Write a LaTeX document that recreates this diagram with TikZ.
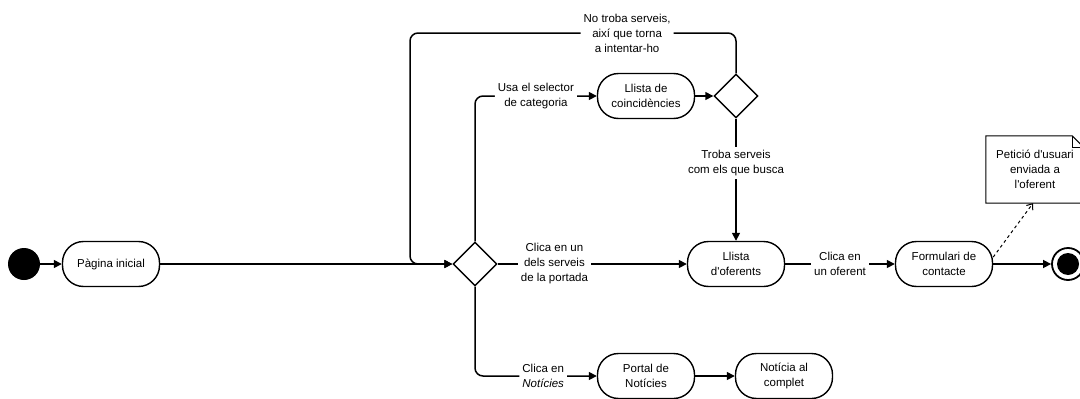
\documentclass[tikz,border=0pt]{standalone}
\usepackage{fontspec}
\setmainfont{Liberation Sans}[Ligatures=TeXOff]
\usetikzlibrary{arrows.meta}
\usetikzlibrary{shapes.geometric}

\tikzset{
  act/.style={draw, line width=1.4pt, rounded corners=21pt, minimum width=97pt, minimum height=45pt, align=center, inner sep=2pt},
  dec/.style={draw, diamond, line width=1.4pt, minimum width=44pt, minimum height=44pt, inner sep=0pt},
  flow/.style={line width=1.5pt, -{Triangle[length=8pt,width=8pt]}},
  lbl/.style={fill=white, align=center, inner sep=3pt},
}

\begin{document}
\begin{tikzpicture}[x=1pt,y=-1pt,font=\fontsize{11.5}{15}\selectfont]
\useasboundingbox (0,0) rectangle (1080,399);
% nodes
\node[circle,fill=black,minimum size=32pt,inner sep=0pt] (start) at (24,264) {};
\node[act] (home) at (111,264) {Pàgina inicial};
\node[dec] (d1) at (475,264) {};
\node[act] (coin) at (646,96) {Llista de\\coincidències};
\node[dec] (d2) at (736,96) {};
\node[act] (ofer) at (736,264) {Llista\\d'oferents};
\node[act] (form) at (944,264) {Formulari de\\contacte};
\node[act] (portal) at (646,376) {Portal de\\Notícies};
\node[act] (full) at (784,376) {Notícia al\\complet};
\node[circle,draw,line width=1.8pt,minimum size=32pt,inner sep=0pt] (end) at (1068,264) {};
\fill[black] (end) circle (11pt);
\node[align=center,minimum width=98pt,minimum height=67pt] (note) at (1035,169.5) {Petició d'usuari\\enviada a\\l'oferent};
\draw[line width=1pt] (note.north west) -- ([xshift=-12pt]note.north east) -- ([yshift=-12pt]note.north east) -- (note.south east) -- (note.south west) -- cycle;
\draw[line width=0.8pt] ([xshift=-12pt]note.north east) |- ([yshift=-12pt]note.north east);
\coordinate (lpTop) at (410,33);
% connectors
\draw[flow] (start) -- (home);
\draw[flow] (home) -- (d1);
\draw[flow,rounded corners=8pt] (d2.north) |- node[lbl,pos=0.667] {No troba serveis,\\així que torna\\a intentar-ho} (lpTop) |- (d1.west);
\draw[flow,rounded corners=8pt] (d1.north) |- node[lbl,pos=0.75] {Usa el selector\\de categoria} (coin);
\draw[flow] (coin) -- (d2);
\draw[flow] (d2) -- node[lbl,pos=0.36] {Troba serveis\\com els que busca} (ofer);
\draw[flow] (d1) -- node[lbl,pos=0.3] {Clica en un\\dels serveis\\de la portada} (ofer);
\draw[flow] (ofer) -- node[lbl] {Clica en\\un oferent} (form);
\draw[flow] (form) -- (end);
\draw[line width=1pt,dashed,-{Straight Barb[length=5pt,width=8pt]}] (form.8) -- ([xshift=-2pt]note.south);
\draw[flow,rounded corners=8pt] (d1.south) |- node[lbl,pos=0.78] {Clica en\\\textit{Notícies}} (portal);
\draw[flow] (portal) -- (full);
\end{tikzpicture}
\end{document}
